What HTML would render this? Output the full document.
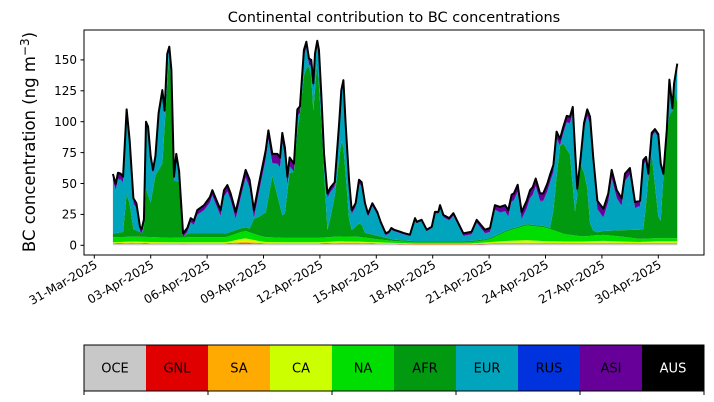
<!DOCTYPE html>
<html><head><meta charset="utf-8">
<style>
body{margin:0;background:#fff;}
svg{display:block;font-family:"DejaVu Sans","Liberation Sans",sans-serif;}
</style></head>
<body>
<svg id="chart" width="714" height="402" viewBox="0 0 714 402" xmlns="http://www.w3.org/2000/svg">
<text x="394" y="22" text-anchor="middle" font-size="14.5">Continental contribution to BC concentrations</text>
<text transform="translate(35,142) rotate(-90)" text-anchor="middle" font-size="16.5">BC concentration (ng m<tspan dy="-6" font-size="12">−3</tspan><tspan dy="6">)</tspan></text>
<g id="areas"></g>
<g id="yaxis"></g>
<g id="xaxis"></g>
<rect x="84" y="30" width="620" height="225" fill="none" stroke="#000" stroke-width="1"/>
<g id="cbar"></g>
</svg>
<script>
// ---- data (day 0 = 31-Mar-2025) ----
const totalDays = [0.99,1.14,1.26,1.40,1.53,1.72,1.88,2.08,2.24,2.43,2.52,2.64,2.75,2.86,3.00,3.12,3.25,3.42,3.62,3.74,3.88,3.99,4.10,4.24,4.36,4.51,4.72,4.95,5.13,5.30,5.48,5.84,6.15,6.28,6.51,6.72,6.90,7.08,7.25,7.52,7.79,8.05,8.26,8.49,8.76,9.12,9.26,9.47,9.74,9.88,10.00,10.14,10.27,10.39,10.62,10.80,10.94,11.15,11.28,11.42,11.54,11.65,11.74,11.86,11.95,12.08,12.22,12.40,12.57,12.79,13.02,13.14,13.25,13.37,13.55,13.69,13.90,14.08,14.22,14.40,14.56,14.79,15.05,15.23,15.50,15.68,15.80,15.94,16.26,16.44,16.79,17.06,17.15,17.41,17.68,17.95,18.12,18.30,18.39,18.57,18.88,19.10,19.36,19.63,20.07,20.34,20.78,21.05,21.31,21.58,21.85,22.02,22.20,22.32,22.52,22.73,23.00,23.18,23.32,23.48,23.71,23.88,24.10,24.24,24.42,24.59,24.77,24.95,25.13,25.30,25.45,25.57,25.69,25.87,26.05,26.22,26.37,26.54,26.76,27.08,27.34,27.52,27.79,28.05,28.23,28.49,28.76,29.03,29.20,29.35,29.47,29.65,29.82,30.00,30.13,30.27,30.45,30.59,30.75,30.84,31.01];
const totalVals = [57.7,49.6,58.7,58,55.5,110,85,38,34,15,13,21,100,96,72,61,72,107,125.6,109,155,160.7,142,55.5,74,60,9.7,14,22,20,28.5,32.5,39,44.6,36,28.5,44.6,48.7,42,27,44.6,61,53,28.5,50,77,93,74,74,71,91,79,55.5,71,66,110,112.5,158,164.7,151,150,131,155,165.5,158,120.6,74,42,47,51,98,125.6,133.6,98,53,28.5,34,53,51,34,25.5,34,27,19,9.7,11,14,12.6,11,10,8.6,22,19,20.6,12.6,15,27,27,32.5,24.5,22,26,18,9.7,11,20.6,12.6,14,32.5,31,32.5,28.5,41,42,49,27,36,44.6,47,54,42,42,50,57,65,92,86,96,104.7,104,112,78,45.9,71,99,110,104,71,36,29.6,42,61,44.6,38,58,62.5,35,36,69,71.5,58,91,94,90,66,58,93,134,111,131,147,140.5];
const afrDays = [0.99,1.53,1.58,1.76,1.93,2.08,2.43,2.64,2.75,3.00,3.25,3.62,3.88,3.99,4.15,4.33,4.51,4.68,5.0,8.3,8.49,8.6,9.0,9.12,9.47,10.09,10.36,10.80,11.15,11.28,11.50,11.65,11.86,12.05,12.22,12.40,12.75,13.19,13.46,13.6,14.17,14.4,16,24.33,24.5,24.77,24.95,25.30,25.45,25.55,25.69,25.87,26.19,26.37,26.6,29.29,29.47,29.65,29.91,30.1,30.27,30.45,30.59,30.84,31.01];
const afrVals = [3,4,10,42,20,6,4,8,39,28,50,60,125,150,98,46,45,4,3,3,15,16,14,20,50,13,50,86,131,137,140,103,143,100,53,6,28,83,34,4,12,4,1,1,30,72,73,65,40,15,45,60,45,10,2,8,68,68,30,4,62,110,100,120,110];
const dailyDays = [1,2,3,4,5,6,7,8,9,10,11,12,13,14,15,16,17,18,19,20,21,22,23,24,25,26,27,28,29,30,31];
const oceVals = [1,1.5,1,1,1,1,1,1.5,1,1,1,1,1.5,1.5,1,1,0.5,0.5,0.5,0.5,1,1,1,1,1,1,1,1,1,1,1];
const gnlVals = [0.3,0.3,0.3,0.3,0.3,0.3,0.3,0.5,0.3,0.3,0.3,0.3,0.3,0.3,0.3,0.2,0.2,0.2,0.2,0.2,0.3,0.3,0.3,0.3,0.3,0.3,0.3,0.3,0.3,0.3,0.3];
const saVals = [0.4,0.4,0.4,0.4,0.4,0.4,0.4,0.8,0.4,0.4,0.4,0.4,0.4,0.4,0.4,0.3,0.3,0.3,0.3,0.3,0.4,0.8,0.8,0.6,0.6,0.6,0.8,0.6,0.6,0.8,0.8];
const caVals = [0.8,0.8,1,0.8,0.8,0.8,0.8,3,1,0.8,0.8,0.8,1,0.8,0.8,0.4,0.4,0.4,0.4,0.4,0.8,1.5,2,1.5,1.2,1.2,1.5,1.2,0.8,1.2,1.2];
const naVals = [4,4,4,3.5,4,4,4,6,4,3.5,3.5,3.5,4,4,2.5,1.5,1,1,1,1,2,8,12,11,6,4,5,4,2.5,2.5,2.5];
const rusVals = [0.5,0.5,0.5,0.5,0.5,0.5,0.5,0.5,0.5,0.5,0.5,0.5,0.5,0.5,0.3,0.3,0.3,0.3,0.3,0.3,0.3,0.5,0.5,0.5,0.5,0.5,0.5,0.5,0.5,0.5,0.5];
const asiVals = [5,4,3,3,3,4,5,6,7,8,5,4,3,3,2,1,1,1,2,2,3,5,6,6,5,5,7,6,4,2,2];
const ausVals = [0,0,0,0,0,0,0,0,0,0,0,0,0,0,0,0,0,0,0,0,0,0,0,0,0,0,0,0,0,0,0];
const yTicks = [0,25,50,75,100,125,150];
const xTickDays = [0,3,6,9,12,15,18,21,24,27,30];
const xTickLabels = ["31-Mar-2025","03-Apr-2025","06-Apr-2025","09-Apr-2025","12-Apr-2025","15-Apr-2025","18-Apr-2025","21-Apr-2025","24-Apr-2025","27-Apr-2025","30-Apr-2025"];
const regions = ["OCE","GNL","SA","CA","NA","AFR","EUR","RUS","ASI","AUS"];
const regionColors = ["#c8c8c8","#e00000","#ffaa00","#ccff00","#00dd00","#009910","#00a5bd","#0033dd","#660099","#000000"];

// ---- axes ----
const X = d => 94.3 + d * 18.8;
const Y = v => 245.3 - v * 1.236;
const NS = "http://www.w3.org/2000/svg";
function mk(tag, attrs, parent){const e=document.createElementNS(NS,tag);for(const k in attrs)e.setAttribute(k,attrs[k]);parent.appendChild(e);return e;}
function interp(xs, ys, x){
  if(x<=xs[0])return ys[0]; if(x>=xs[xs.length-1])return ys[ys.length-1];
  for(let i=1;i<xs.length;i++){if(x<=xs[i]){const t=(x-xs[i-1])/(xs[i]-xs[i-1]);return ys[i-1]+t*(ys[i]-ys[i-1]);}}
}

const areas = document.getElementById('areas');
const n = totalDays.length;
const layers = regions.map(()=>new Array(n).fill(0));
for(let i=0;i<n;i++){
  const d = totalDays[i], tot = totalVals[i];
  const small = [oceVals,gnlVals,saVals,caVals,naVals].map(a=>interp(dailyDays,a,d));
  const rus = interp(dailyDays,rusVals,d), asi = interp(dailyDays,asiVals,d), aus = interp(dailyDays,ausVals,d);
  let base = small.reduce((a,b)=>a+b,0);
  const top = rus+asi+aus;
  let scale = 1;
  if(base + top > tot){ scale = tot/(base+top); }
  const sm = small.map(v=>v*scale);
  base = sm.reduce((a,b)=>a+b,0);
  const rr=rus*scale, aa=asi*scale, uu=aus*scale;
  let afr = Math.max(0, Math.min(interp(afrDays,afrVals,d), tot - base - rr - aa - uu));
  const eur = Math.max(0, tot - base - afr - rr - aa - uu);
  const vals = [...sm, afr, eur, rr, aa, uu];
  vals.forEach((v,k)=>layers[k][i]=v);
}
let cum = new Array(n).fill(0);
regions.forEach((r,k)=>{
  const lower = cum.slice();
  cum = cum.map((c,i)=>c+layers[k][i]);
  let dstr = '';
  for(let i=0;i<n;i++) dstr += (i?'L':'M') + X(totalDays[i]).toFixed(2)+','+Y(cum[i]).toFixed(2);
  for(let i=n-1;i>=0;i--) dstr += 'L' + X(totalDays[i]).toFixed(2)+','+Y(lower[i]).toFixed(2);
  const p = mk('path',{d:dstr+'Z',fill:regionColors[k],stroke:'none'},areas);
  
  
});
let ld='';
for(let i=0;i<n;i++) ld += (i?'L':'M') + X(totalDays[i]).toFixed(2)+','+Y(totalVals[i]).toFixed(2);
const tl = mk('path',{d:ld,fill:'none',stroke:'#000','stroke-width':2,'stroke-linejoin':'round'},areas);



const ya = document.getElementById('yaxis');
yTicks.forEach(v=>{
  const y=Y(v);
  const t=mk('line',{x1:80.5,x2:84,y1:y,y2:y,stroke:'#000','stroke-width':1},ya);
  
  
  const lb=mk('text',{x:77,y:y+4.3,'text-anchor':'end','font-size':12},ya);
  lb.textContent=v;
  
  
});
const xa = document.getElementById('xaxis');
xTickDays.forEach((d,i)=>{
  const x=X(d);
  const t=mk('line',{x1:x,x2:x,y1:255,y2:258.5,stroke:'#000','stroke-width':1},xa);
  
  
  const lb=mk('text',{transform:`translate(${x+4},${267}) rotate(-30)`,'text-anchor':'end','font-size':12},xa);
  lb.textContent=xTickLabels[i];
  
  
});

const cb = document.getElementById('cbar');
const segW = 62;
regions.forEach((r,k)=>{
  const x = 84 + k*segW;
  const rc = mk('rect',{x:x,y:345,width:segW,height:46,fill:regionColors[k]},cb);
  
  
  const tx = mk('text',{x:x+segW/2,y:372.5,'text-anchor':'middle','font-size':13,fill:r==='AUS'?'#fff':'#000'},cb);
  tx.textContent = r;
  
  
});
mk('rect',{x:84,y:345,width:620,height:46,fill:'none',stroke:'#000','stroke-width':1},cb);
for(let k=0;k<=10;k+=2){
  const x=84+k*segW;
  const t=mk('line',{x1:x,x2:x,y1:391,y2:395,stroke:'#000','stroke-width':1},cb);
  
  
}
</script>
</body></html>
